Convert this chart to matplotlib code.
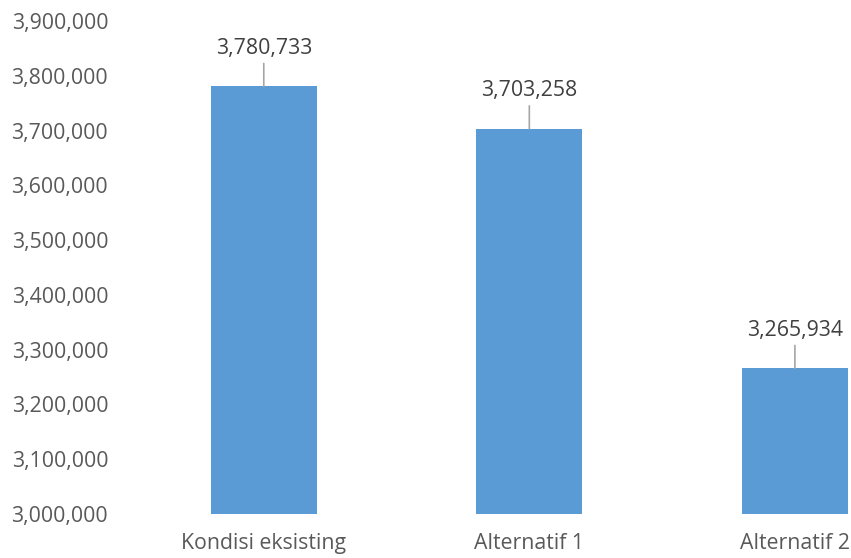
import matplotlib.pyplot as plt
from matplotlib.ticker import FuncFormatter

# Data
CATEGORIES = ["Kondisi eksisting", "Alternatif 1", "Alternatif 2"]
VALUES = [3780733, 3703258, 3265934]

BAR_COLOR = "#5B9BD5"
TEXT_COLOR = "#595959"
LABEL_COLOR = "#404040"
LEADER_COLOR = "#A6A6A6"

plt.rcParams["font.family"] = ["Open Sans", "DejaVu Sans"]


def main():
    fig = plt.figure(figsize=(8.51, 5.58), dpi=100)
    ax = fig.add_axes([131 / 851, 44 / 558, (848 - 131) / 851, (514 - 21) / 558])

    x = list(range(len(CATEGORIES)))
    ax.bar(x, VALUES, width=0.4, color=BAR_COLOR, zorder=2)

    ax.set_ylim(3_000_000, 3_900_000)
    ax.set_xlim(-0.5, 2.2)
    ax.set_yticks(range(3_000_000, 3_900_001, 100_000))
    ax.yaxis.set_major_formatter(FuncFormatter(lambda v, _: f"{v:,.0f}"))
    ax.set_xticks(x)
    ax.set_xticklabels(CATEGORIES)

    ax.tick_params(axis="both", length=0, labelsize=15.3, colors=TEXT_COLOR)
    ax.tick_params(axis="y", pad=16.5)
    ax.tick_params(axis="x", pad=14)
    for s in ax.spines.values():
        s.set_visible(False)

    # data labels with short leader lines, Excel style
    for xi, v in zip(x, VALUES):
        ax.annotate(f"{v:,}", xy=(xi, v), xytext=(0, 20), textcoords="offset points",
                    ha="center", va="bottom", fontsize=15.3, color=LABEL_COLOR,
                    arrowprops=dict(arrowstyle="-", color=LEADER_COLOR, lw=1.2,
                                    shrinkA=1.5, shrinkB=0))

    fig.savefig("out.png", dpi=100)


if __name__ == "__main__":
    main()
